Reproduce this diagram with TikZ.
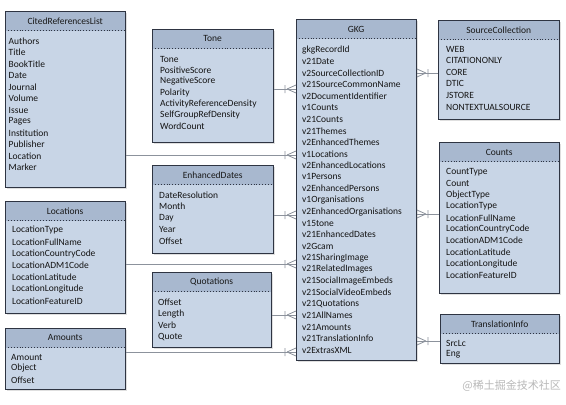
\documentclass[tikz,border=0pt]{standalone}
\usepackage{fontspec}
\setmainfont{Carlito}
\newfontfamily\cjkfont{Noto Sans CJK SC}
\usetikzlibrary{calc,shadows}
\definecolor{hdr}{HTML}{A8B8CF}
\definecolor{bdy}{HTML}{C8D5E6}
\definecolor{brd}{HTML}{2E3442}
\definecolor{lnk}{HTML}{8C929C}
\tikzset{
 tbody/.style={draw=brd, line width=0.9pt, fill=bdy, inner sep=0pt,
   drop shadow={shadow xshift=1.2pt, shadow yshift=-1.2pt, opacity=0.25}},
 thead/.style={fill=hdr, inner sep=0pt, font=\fontsize{9.5}{10}\selectfont, text=black!90},
 item/.style={inner sep=0pt, font=\fontsize{9.5}{10}\selectfont, text=black!92},
 conn/.style={draw=lnk, line width=0.8pt},
 frame/.style={draw=brd, line width=0.9pt},
}
\def\inset{6}
% #1 name #2 x #3 y #4 w #5 h #6 title #7 first item y #8 item step #9 items
\newcommand\ertable[9]{%
 \node[tbody, anchor=north west, minimum width=#4pt, minimum height=#5pt] (#1) at (#2,#3) {};
 \node[thead, anchor=north west, minimum width=#4pt, minimum height=19.5pt] (#1-h) at (#2,#3) {#6};
 \draw[brd, dotted, line width=0.9pt] (#1-h.south west) -- (#1-h.south east);
 \draw[frame] (#1.south west) rectangle (#1.north east);
 \foreach \t [count=\i] in {#9}
   \node[item, anchor=west] (#1-\i) at ({#2+\inset},{#7+(\i-1)*#8}) {\t};
}
\newcommand\crowL[1]{\draw[conn] ($(#1)+(-9,0)$) -- ($(#1)+(0,-4)$)
  ($(#1)+(-9,0)$) -- ($(#1)+(0,4)$) ($(#1)+(-11,-4)$) -- ($(#1)+(-11,4)$);}
\newcommand\crowR[1]{\draw[conn] ($(#1)+(9,0)$) -- ($(#1)+(0,-4)$)
  ($(#1)+(9,0)$) -- ($(#1)+(0,4)$) ($(#1)+(11,-4)$) -- ($(#1)+(11,4)$);}
\begin{document}
\begin{tikzpicture}[x=1pt, y=-1pt]
\path[use as bounding box, fill=white] (0,0) rectangle (566,405);

\def\inset{3.5}
\ertable{cr}{5}{11}{120}{176}{CitedReferencesList}{41}{11.5}{Authors,Title,BookTitle,Date,Journal,Volume,Issue,Pages,Institution,Publisher,Location,Marker}
\def\inset{7}
\ertable{loc}{5}{201}{120}{112}{Locations}{230}{11.8}{LocationType,LocationFullName,LocationCountryCode,LocationADM1Code,LocationLatitude,LocationLongitude,LocationFeatureID}
\def\inset{6}
\ertable{amt}{5}{328}{120}{61}{Amounts}{357}{11.5}{Amount,Object,Offset}
\def\inset{8}
\ertable{tone}{152}{29}{121}{113}{Tone}{59}{11.2}{Tone,PositiveScore,NegativeScore,Polarity,ActivityReferenceDensity,SelfGroupRefDensity,WordCount}
\def\inset{7}
\ertable{ed}{152}{165}{121}{88}{EnhancedDates}{195}{11.5}{DateResolution,Month,Day,Year,Offset}
\def\inset{6}
\ertable{quo}{152}{272}{119}{75}{Quotations}{302}{11.7}{Offset,Length,Verb,Quote}
\ertable{gkg}{296}{19}{120}{341}{GKG}{50}{11.54}{gkgRecordId,v21Date,v2SourceCollectionID,v21SourceCommonName,v2DocumentIdentifier,v1Counts,v21Counts,v21Themes,v2EnhancedThemes,v1Locations,v2EnhancedLocations,v1Persons,v2EnhancedPersons,v1Organisations,v2EnhancedOrganisations,v15tone,v21EnhancedDates,v2Gcam,v21SharingImage,v21RelatedImages,v21SocialImageEmbeds,v21SocialVideoEmbeds,v21Quotations,v21AllNames,v21Amounts,v21TranslationInfo,v2ExtrasXML}
\def\inset{8}
\ertable{sc}{438}{20}{121}{99}{SourceCollection}{49}{11.6}{WEB,CITATIONONLY,CORE,DTIC,JSTORE,NONTEXTUALSOURCE}
\def\inset{7}
\ertable{cnt}{439}{142}{120}{151}{Counts}{172}{11.45}{CountType,Count,ObjectType,LocationType,LocationFullName,LocationCountryCode,LocationADM1Code,LocationLatitude,LocationLongitude,LocationFeatureID}
\def\inset{6}
\ertable{ti}{440}{314}{119}{49}{TranslationInfo}{343}{11}{SrcLc,Eng}

% connectors, left side of GKG
\coordinate (e1) at (gkg.west |- 0,89);
\coordinate (e2) at (gkg.west |- 0,155);
\coordinate (e3) at (gkg.west |- 0,215);
\coordinate (e4) at (gkg.west |- 0,264);
\coordinate (e5) at (gkg.west |- 0,315);
\coordinate (e6) at (gkg.west |- 0,352);
\draw[conn] (tone.east |- e1) -- (e1); \crowL{e1}
\draw[conn] (cr.east |- e2) -- (e2); \crowL{e2}
\draw[conn] (ed.east |- e3) -- (e3); \crowL{e3}
\draw[conn] (loc.east |- e4) -- (e4); \crowL{e4}
\draw[conn] (quo.east |- e5) -- (e5); \crowL{e5}
\draw[conn] (amt.east |- e6) -- (e6); \crowL{e6}
% right side of GKG
\coordinate (f1) at (gkg.east |- 0,73);
\coordinate (f2) at (gkg.east |- 0,214);
\coordinate (f3) at (gkg.east |- 0,341);
\draw[conn] (f1) -- (sc.west |- f1); \crowR{f1}
\draw[conn] (f2) -- (cnt.west |- f2); \crowR{f2}
\draw[conn] (f3) -- (ti.west |- f3); \crowR{f3}

\node[anchor=east, inner sep=0pt, text=black!28, font=\cjkfont\fontsize{11}{12}\selectfont] (wm) at (561,386) {@稀土掘金技术社区};
\end{tikzpicture}
\end{document}
